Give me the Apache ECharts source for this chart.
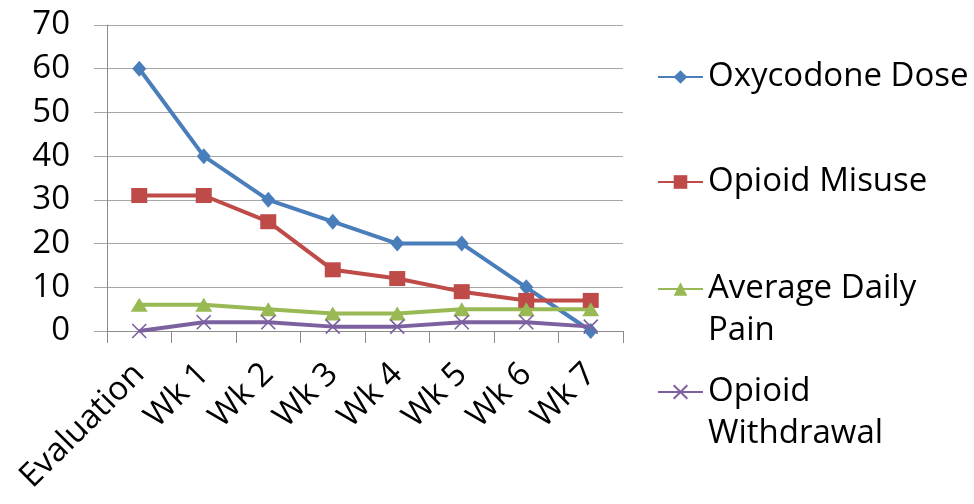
<!DOCTYPE html>
<html>
<head>
<meta charset="utf-8">
<script src="https://cdn.jsdelivr.net/npm/echarts@6/dist/echarts.min.js"></script>
<style>
  html, body { margin: 0; padding: 0; background: #fff; }
  #chart { width: 974px; height: 504px; }
</style>
</head>
<body>
<div id="chart"></div>
<script>
// Weekly taper course: categories and the four tracked measures
const categories = ['Evaluation', 'Wk 1', 'Wk 2', 'Wk 3', 'Wk 4', 'Wk 5', 'Wk 6', 'Wk 7'];
const oxycodoneDose = [60, 40, 30, 25, 20, 20, 10, 0];
const opioidMisuse = [31, 31, 25, 14, 12, 9, 7, 7];
const averageDailyPain = [6, 6, 5, 4, 4, 5, 5, 5];
const opioidWithdrawal = [0, 2, 2, 1, 1, 2, 2, 1];
const yTicks = { min: 0, max: 70, step: 10 };

const FONT = '"Open Sans", "Liberation Sans", sans-serif';
const FS = 33;
const LH = 42;
const GRID_LINE = '#a6a6a6';
const AXIS_LINE = '#8c8c8c';

const crossPath = 'path://M0,0L10,10M10,0L0,10';

function lineSeries(name, data, color, symbol, size) {
  return {
    name: name,
    type: 'line',
    data: data,
    symbol: symbol,
    symbolSize: size,
    showSymbol: true,
    lineStyle: { color: color, width: 4 },
    itemStyle: symbol === crossPath
      ? { color: color, borderColor: color, borderWidth: 1.6 }
      : { color: color },
    animation: false
  };
}

// Two-line legend labels get an empty leading line so the marker sits
// beside the first line of text.
function legendFor(name, top, lines) {
  const text = lines.length > 1 ? '\n' + lines.join('\n') : lines[0];
  return {
    data: [{ name: name }],
    left: 657,
    top: top,
    orient: 'vertical',
    padding: 0,
    itemWidth: 45,
    itemHeight: 17,
    itemGap: 0,
    selectedMode: false,
    formatter: function () { return text; },
    textStyle: {
      fontFamily: FONT,
      fontSize: FS,
      color: '#000',
      lineHeight: LH
    }
  };
}

const chart = echarts.init(document.getElementById('chart'), null, { renderer: 'canvas' });
chart.setOption({
  backgroundColor: '#ffffff',
  animation: false,
  grid: { left: 107, right: 351, top: 25, bottom: 173, containLabel: false },
  legend: [
    legendFor('Oxycodone Dose', 56, ['Oxycodone Dose']),
    legendFor('Opioid Misuse', 161, ['Opioid Misuse']),
    legendFor('Average Daily Pain', 226, ['Average Daily', 'Pain']),
    legendFor('Opioid Withdrawal', 329, ['Opioid', 'Withdrawal'])
  ],
  xAxis: {
    type: 'category',
    data: categories,
    boundaryGap: true,
    axisLine: { show: true, lineStyle: { color: AXIS_LINE, width: 1 } },
    axisTick: { show: true, length: 12, alignWithLabel: false, lineStyle: { color: AXIS_LINE } },
    axisLabel: {
      rotate: 45,
      interval: 0,
      margin: 38,
      padding: [28, 0, 0, 0],
      fontFamily: FONT,
      fontSize: FS,
      color: '#000'
    },
    splitLine: { show: false }
  },
  yAxis: {
    type: 'value',
    min: yTicks.min,
    max: yTicks.max,
    interval: yTicks.step,
    axisLine: { show: true, lineStyle: { color: AXIS_LINE, width: 1 } },
    axisTick: { show: true, length: 13, lineStyle: { color: GRID_LINE } },
    axisLabel: {
      margin: 37,
      fontFamily: FONT,
      fontSize: FS,
      color: '#000'
    },
    splitLine: { show: true, lineStyle: { color: GRID_LINE, width: 1 } }
  },
  series: [
    lineSeries('Oxycodone Dose', oxycodoneDose, '#4a7ebb', 'diamond', [14, 16]),
    lineSeries('Opioid Misuse', opioidMisuse, '#be4b48', 'rect', [16, 15]),
    lineSeries('Average Daily Pain', averageDailyPain, '#98b954', 'triangle', [17, 14]),
    lineSeries('Opioid Withdrawal', opioidWithdrawal, '#7d60a0', crossPath, [14, 14])
  ]
});
</script>
</body>
</html>
